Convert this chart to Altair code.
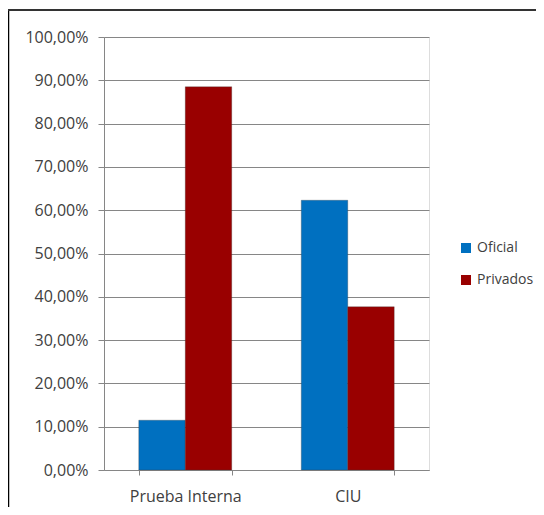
import altair as alt
import pandas as pd

categories = ["Prueba Interna", "CIU"]
series = ["Oficial", "Privados"]
oficial = [0.115, 0.623]
privados = [0.885, 0.377]

rows = []
for i, c in enumerate(categories):
    rows.append({"cat": c, "serie": "Oficial", "val": oficial[i]})
    rows.append({"cat": c, "serie": "Privados", "val": privados[i]})
df = pd.DataFrame(rows)

FONT = "Open Sans"
TXT = "#404040"

bars = alt.Chart(df).mark_bar(stroke="#3a3a3a", strokeWidth=0.3).encode(
    x=alt.X("cat:N", sort=categories, title=None,
            scale=alt.Scale(paddingInner=0.428, paddingOuter=0.214),
            axis=alt.Axis(labelAngle=0, tickBand="extent", labelFont=FONT,
                          labelFontSize=16, labelColor=TXT, labelPadding=13,
                          tickSize=5, tickColor="#868686", domainColor="#868686")),
    xOffset=alt.XOffset("serie:N", sort=series),
    y=alt.Y("val:Q", title=None,
            scale=alt.Scale(domain=[0, 1], nice=False),
            axis=alt.Axis(values=[i / 10 for i in range(11)],
                          labelExpr="replace(format(datum.value, '.2%'), '.', ',')",
                          labelFont=FONT, labelFontSize=16, labelColor=TXT,
                          labelPadding=10, tickSize=6, tickColor="#868686",
                          domainColor="#868686", grid=True, gridColor="#868686",
                          gridWidth=1)),
    color=alt.Color("serie:N", sort=series, title=None,
                    scale=alt.Scale(domain=series, range=["#0070C0", "#990000"]),
                    legend=alt.Legend(orient="none", legendX=355, legendY=204,
                                      symbolType="square", symbolSize=100,
                                      symbolStrokeWidth=0, labelFont=FONT,
                                      labelFontSize=14, labelColor=TXT,
                                      rowPadding=18, labelOffset=4)),
)

frame_df = pd.DataFrame({"a": [0]})
left_border = alt.Chart(frame_df).mark_rule(color="black", strokeWidth=2.5).encode(
    x=alt.value(-96), y=alt.value(-28), y2=alt.value(480))
top_border = alt.Chart(frame_df).mark_rule(color="#333333", strokeWidth=2).encode(
    x=alt.value(-97), x2=alt.value(450), y=alt.value(-27))

chart = alt.layer(bars, left_border, top_border).properties(
    width=325, height=433,
    autosize=alt.AutoSizeParams(type="none"),
    padding={"left": 96, "top": 29, "right": 107, "bottom": 37},
).configure_view(stroke=None).configure(background="white")

chart.save("out.html", embed_options={"renderer": "svg", "actions": False})
